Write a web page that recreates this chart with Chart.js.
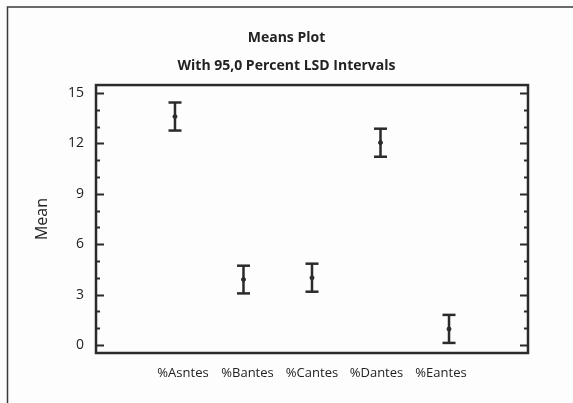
<!DOCTYPE html>
<html>
<head>
<meta charset="utf-8">
<script src="https://cdn.jsdelivr.net/npm/chart.js@4"></script>
<style>
  html, body { margin: 0; padding: 0; background: #fdfdfd; }
  #wrap { width: 573px; height: 403px; }
</style>
</head>
<body>
<div id="wrap"><canvas id="means-chart" width="573" height="403"></canvas></div>
<script>
// data
var categories = ['%Asntes', '%Bantes', '%Cantes', '%Dantes', '%Eantes'];
var means = [13.6, 3.9, 4.0, 12.05, 0.95];
var lower = [12.77, 3.07, 3.17, 11.21, 0.12];
var upper = [14.44, 4.72, 4.84, 12.88, 1.79];
var yTicks = [0, 3, 6, 9, 12, 15];

var ink = '#2b2b2b';
var font = "'Open Sans', 'Noto Sans', sans-serif";

var stems = [], capsTop = [], capsBottom = [], meanPts = [];
for (var i = 0; i < categories.length; i++) {
    stems.push({x: i + 1, y: lower[i]});
    stems.push({x: i + 1, y: upper[i]});
    stems.push({x: i + 1, y: null});
    capsTop.push({x: i + 1, y: upper[i]});
    capsBottom.push({x: i + 1, y: lower[i]});
    meanPts.push({x: i + 1, y: means[i]});
}

// frame, outer border and inward tick marks on the mean axis
var framePlugin = {
    id: 'frame',
    beforeDraw: function(chart) {
        var c = chart.ctx;
        c.save();
        c.strokeStyle = '#3a3a3a';
        c.lineWidth = 1.5;
        c.beginPath();
        c.moveTo(7.5, 403);
        c.lineTo(7.5, 7);
        c.lineTo(573, 7);
        c.stroke();
        c.restore();
    },
    afterDraw: function(chart) {
        var c = chart.ctx, a = chart.chartArea, y = chart.scales.y;
        c.save();
        c.strokeStyle = ink;
        c.lineWidth = 2.5;
        c.strokeRect(a.left, a.top, a.right - a.left, a.bottom - a.top);
        c.lineWidth = 2;
        c.beginPath();
        for (var v = 0; v <= 15; v++) {
            var py = Math.round(y.getPixelForValue(v)) + 0.5;
            var len = (v % 3 === 0) ? 8 : 4;
            c.moveTo(a.left, py); c.lineTo(a.left + len, py);
            c.moveTo(a.right, py); c.lineTo(a.right - len, py);
        }
        c.stroke();
        c.restore();
    }
};

var ctx = document.getElementById('means-chart').getContext('2d');
new Chart(ctx, {
    type: 'scatter',
    data: {
        datasets: [
            {
                label: 'interval',
                data: stems,
                showLine: true,
                spanGaps: false,
                borderColor: ink,
                borderWidth: 2.5,
                pointRadius: 0
            },
            {
                label: 'upper',
                data: capsTop,
                pointStyle: 'line',
                pointRadius: 6.5,
                borderColor: ink,
                borderWidth: 2.5
            },
            {
                label: 'lower',
                data: capsBottom,
                pointStyle: 'line',
                pointRadius: 6.5,
                borderColor: ink,
                borderWidth: 2.5
            },
            {
                label: 'mean',
                data: meanPts,
                pointRadius: 2,
                backgroundColor: ink,
                borderColor: ink,
                borderWidth: 1
            }
        ]
    },
    options: {
        responsive: false,
        animation: false,
        layout: { padding: 0 },
        plugins: {
            legend: { display: false },
            tooltip: { enabled: false },
            title: {
                display: true,
                text: ['Means Plot', 'With 95,0 Percent LSD Intervals'],
                color: '#222',
                font: { family: font, size: 14, weight: 'bold', lineHeight: 1.93 },
                padding: { top: 25, bottom: 6 }
            }
        },
        scales: {
            x: {
                type: 'linear',
                display: false,
                min: -0.153,
                max: 6.153
            },
            xl: {
                type: 'linear',
                position: 'bottom',
                min: -0.349,
                max: 6.349,
                grid: { display: false, drawTicks: false },
                border: { display: false },
                afterBuildTicks: function(s) {
                    s.ticks = categories.map(function(c, i) { return {value: i + 1}; });
                },
                afterFit: function(s) { s.height = 50; },
                ticks: {
                    autoSkip: false,
                    maxRotation: 0,
                    padding: 12,
                    color: '#222',
                    font: { family: font, size: 13 },
                    callback: function(v) { return categories[v - 1]; }
                }
            },
            y: {
                type: 'linear',
                min: -0.48,
                max: 15.48,
                grid: { display: false, drawTicks: false },
                border: { display: false },
                afterBuildTicks: function(s) {
                    s.ticks = yTicks.map(function(v) { return {value: v}; });
                },
                afterFit: function(s) { s.width = 96; },
                ticks: {
                    padding: 12,
                    color: '#222',
                    font: { family: font, size: 14 }
                },
                title: {
                    display: true,
                    text: 'Mean',
                    color: '#222',
                    font: { family: font, size: 16 },
                    padding: { top: 33, bottom: 0 }
                }
            },
            yr: {
                type: 'linear',
                position: 'right',
                grid: { display: false, drawTicks: false },
                border: { display: false },
                ticks: { display: false },
                afterFit: function(s) { s.width = 45; }
            }
        }
    },
    plugins: [framePlugin]
});
</script>
</body>
</html>
